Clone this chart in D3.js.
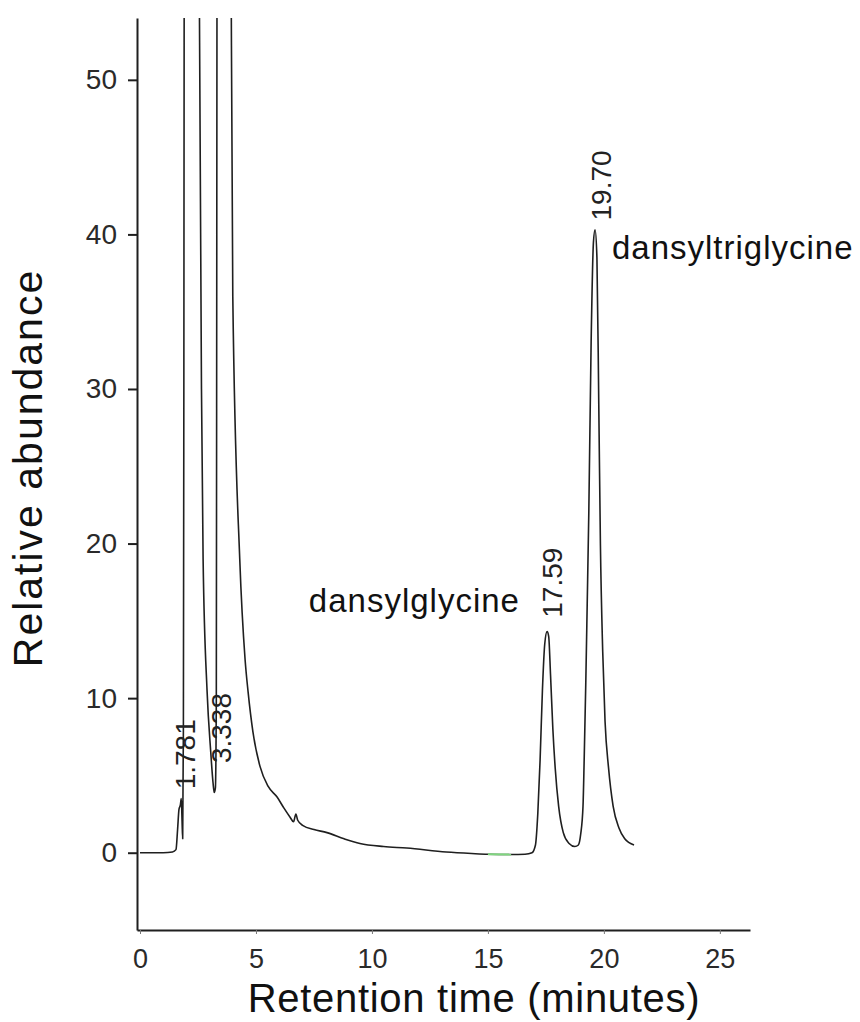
<!DOCTYPE html>
<html>
<head>
<meta charset="utf-8">
<script src="https://cdn.jsdelivr.net/npm/d3@7"></script>
<style>
  body { margin: 0; background: #fff; }
  svg { display: block; font-family: "Liberation Sans", Arial, sans-serif; }
</style>
</head>
<body>
<svg id="chart"></svg>
<script>
// chromatogram trace (minutes, relative abundance)
var traceTime = [0, 0.5, 1.0, 1.4, 1.55, 1.62, 1.68, 1.74, 1.78, 1.81, 1.84, 1.87, 1.89, 1.92, 2.2, 2.5, 2.56, 2.65, 2.72, 2.89, 3.05, 3.15, 3.2, 3.25, 3.29, 3.31, 3.34, 3.6, 3.92, 4.0, 4.3, 4.53, 4.66, 4.87, 5.17, 5.52, 5.91, 6.2, 6.47, 6.62, 6.72, 6.8, 7.03, 7.5, 8.06, 8.8, 9.48, 10.5, 11.5, 13.2, 14.3, 15.0, 16.0, 16.6, 16.9, 17.05, 17.15, 17.25, 17.35, 17.45, 17.55, 17.62, 17.7, 17.8, 17.9, 18.05, 18.25, 18.5, 18.75, 18.9, 19.0, 19.1, 19.15, 19.22, 19.28, 19.35, 19.45, 19.55, 19.62, 19.7, 19.78, 19.85, 19.95, 20.05, 20.2, 20.4, 20.65, 20.9, 21.3];
var traceValue = [0, 0, 0, 0.05, 0.2, 1.5, 2.8, 3.1, 3.5, 2.2, 0.9, 8, 30, 80, 150, 80, 55, 30, 19, 10.5, 6.5, 4.5, 3.9, 4.2, 10, 40, 90, 200, 60, 36, 19, 12.5, 10.4, 7.8, 5.6, 4.3, 3.6, 2.9, 2.3, 2.0, 2.5, 2.1, 1.75, 1.5, 1.3, 0.9, 0.6, 0.4, 0.3, 0.05, -0.05, -0.1, -0.12, -0.1, 0.0, 0.5, 2.5, 6, 10.5, 13.5, 14.3, 14.0, 11.5, 8, 5.5, 3, 1.3, 0.6, 0.4, 0.5, 1.2, 3, 6, 11, 16, 22, 33, 39.5, 40.3, 38.5, 29, 20, 13, 8.5, 5.5, 3, 1.6, 0.9, 0.5];

// green stretch of the trace in the picture
var greenFrom = 14.8, greenTo = 16.3;

var xTicks = [0, 5, 10, 15, 20, 25];
var yTicks = [0, 10, 20, 30, 40, 50];

var peakLabels = ["1.781", "3.338", "17.59", "19.70"];
var peakLabelLevel = [4.1, 5.8, 15.2, 40.9];

var compounds = ["dansylglycine", "dansyltriglycine"];
var compoundPeak = [17.59, 19.70];

var width = 860, height = 1022;

var svg = d3.select("#chart")
    .attr("width", width)
    .attr("height", height);

var x = d3.scaleLinear()
    .domain([-0.13, 26.3])
    .range([137, 750]);

var y = d3.scaleLinear()
    .domain([-5, 54])
    .range([930, 18]);

var ink = "#1f1f1f";

// axes
var yAxis = svg.append("g")
    .attr("transform", "translate(" + x(-0.13) + ",0)")
    .call(d3.axisLeft(y).tickValues(yTicks).tickSize(9).tickSizeOuter(0).tickPadding(11));

yAxis.select(".domain").attr("stroke", ink).attr("stroke-width", 2);
yAxis.selectAll(".tick line").attr("stroke", ink).attr("stroke-width", 2);
yAxis.selectAll(".tick text")
    .attr("fill", "#2a2a2a")
    .style("font-size", "28px");

var xAxis = svg.append("g")
    .attr("transform", "translate(0," + y(-5) + ")")
    .call(d3.axisBottom(x).tickValues(xTicks).tickSize(4).tickSizeOuter(0).tickPadding(15));

xAxis.select(".domain").attr("stroke", ink).attr("stroke-width", 2);
xAxis.selectAll(".tick line").attr("stroke", "#777").attr("stroke-width", 1);
xAxis.selectAll(".tick text")
    .attr("fill", "#2a2a2a")
    .style("font-size", "27px");

// axis titles
svg.append("text").text("Relative abundance")
    .attr("text-anchor", "middle")
    .attr("dy", "0.35em")
    .attr("transform", "translate(28,468)rotate(-90)")
    .attr("fill", "#111")
    .style("font-size", "41px")
    .style("letter-spacing", "2px");

svg.append("text").text("Retention time (minutes)")
    .attr("text-anchor", "middle")
    .attr("x", 474)
    .attr("y", 1012)
    .attr("fill", "#111")
    .style("font-size", "40px")
    .style("letter-spacing", "0.7px");

// trace, clipped at the top of the y axis
svg.append("clipPath").attr("id", "plotClip")
    .append("rect")
    .attr("x", x(-0.13))
    .attr("y", y(54))
    .attr("width", x(26.3) - x(-0.13))
    .attr("height", y(-5) - y(54));

var points = traceTime.map(function(t, i) { return [t, traceValue[i]]; });

var line = d3.line()
    .x(function(d) { return x(d[0]); })
    .y(function(d) { return y(d[1]); })
    .curve(d3.curveMonotoneX);

var plot = svg.append("g").attr("clip-path", "url(#plotClip)");

plot.append("path")
    .datum(points)
    .attr("d", line)
    .attr("fill", "none")
    .attr("stroke", ink)
    .attr("stroke-width", 1.6)
    .attr("stroke-linejoin", "round");

plot.append("path")
    .datum(points.filter(function(d) { return d[0] >= greenFrom && d[0] <= greenTo; }))
    .attr("d", line)
    .attr("fill", "none")
    .attr("stroke", "#7fd67f")
    .attr("stroke-width", 2);

// retention time labels above the peaks
peakLabels.forEach(function(lab, i) {
    svg.append("text").text(lab)
        .attr("dy", "0.35em")
        .attr("transform", "translate(" + (x(+lab) + 4) + "," + y(peakLabelLevel[i]) + ")rotate(-90)")
        .attr("fill", "#222")
        .style("font-size", "28px");
});

// compound names
svg.append("text").text(compounds[0])
    .attr("text-anchor", "end")
    .attr("x", x(compoundPeak[0]) - 28)
    .attr("y", 612)
    .attr("fill", "#111")
    .style("font-size", "33px")
    .style("letter-spacing", "1px");

svg.append("text").text(compounds[1])
    .attr("x", x(compoundPeak[1]) + 15)
    .attr("y", 259)
    .attr("fill", "#111")
    .style("font-size", "33px")
    .style("letter-spacing", "1px");
</script>
</body>
</html>
